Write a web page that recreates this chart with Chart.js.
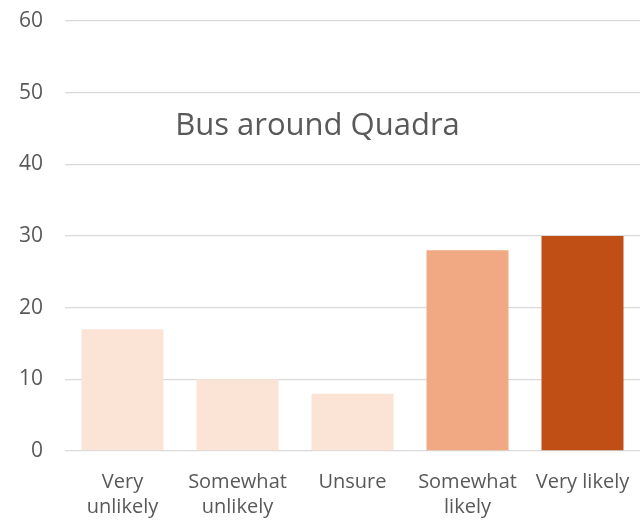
<!DOCTYPE html>
<html>
<head>
<meta charset="utf-8">
<script src="https://cdn.jsdelivr.net/npm/chart.js@4"></script>
<style>
  html, body { margin: 0; padding: 0; background: #fff; }
  #wrap { width: 641px; height: 523px; }
</style>
</head>
<body>
<div id="wrap"><canvas id="busChart"></canvas></div>
<script>
  // chart data
  const categories = [['Very', 'unlikely'], ['Somewhat', 'unlikely'], 'Unsure', ['Somewhat', 'likely'], 'Very likely'];
  const responses = [17, 10, 8, 28, 30];
  const barColors = ['#FBE3D6', '#FBE3D6', '#FBE3D6', '#F1A983', '#C04F15'];
  const yTicks = [0, 10, 20, 30, 40, 50, 60];
  const chartTitle = 'Bus around Quadra';

  const fontFamily = '"Open Sans", "Liberation Sans", sans-serif';

  // title sits inside the plot area, like the original
  const innerTitle = {
    id: 'innerTitle',
    afterDraw(chart) {
      const ctx = chart.ctx;
      const area = chart.chartArea;
      ctx.save();
      ctx.fillStyle = '#595959';
      ctx.font = '31px ' + fontFamily;
      ctx.textAlign = 'center';
      ctx.textBaseline = 'alphabetic';
      ctx.fillText(chartTitle, (area.left + area.right) / 2 - 35, area.top + 114);
      ctx.restore();
    }
  };

  const ctx = document.getElementById('busChart').getContext('2d');
  new Chart(ctx, {
    type: 'bar',
    data: {
      labels: categories,
      datasets: [{
        data: responses,
        backgroundColor: barColors,
        borderWidth: 0,
        barPercentage: 0.713,
        categoryPercentage: 1
      }]
    },
    options: {
      responsive: true,
      maintainAspectRatio: false,
      animation: false,
      layout: { padding: { top: 21, right: 1, left: 0, bottom: 0 } },
      plugins: {
        legend: { display: false },
        title: { display: false },
        tooltip: { enabled: false }
      },
      scales: {
        x: {
          grid: { display: false, drawTicks: false },
          border: { display: false },
          ticks: {
            color: '#595959',
            font: { family: fontFamily, size: 20, lineHeight: 1.25 },
            padding: 19,
            maxRotation: 0,
            autoSkip: false
          },
          afterFit(scale) {
            scale.height = 72;
            scale.paddingLeft = 0;
            scale.paddingRight = 0;
          }
        },
        y: {
          min: 0,
          max: 60,
          afterBuildTicks(scale) { scale.ticks = yTicks.map(v => ({ value: v })); },
          grid: { color: '#d9d9d9', lineWidth: 1.3, drawTicks: false },
          border: { display: false },
          ticks: {
            color: '#595959',
            font: { family: fontFamily, size: 21 },
            padding: 22
          },
          afterFit(scale) {
            scale.width = 65;
            scale.paddingTop = 0;
            scale.paddingBottom = 0;
          }
        }
      }
    },
    plugins: [innerTitle]
  });
</script>
</body>
</html>
